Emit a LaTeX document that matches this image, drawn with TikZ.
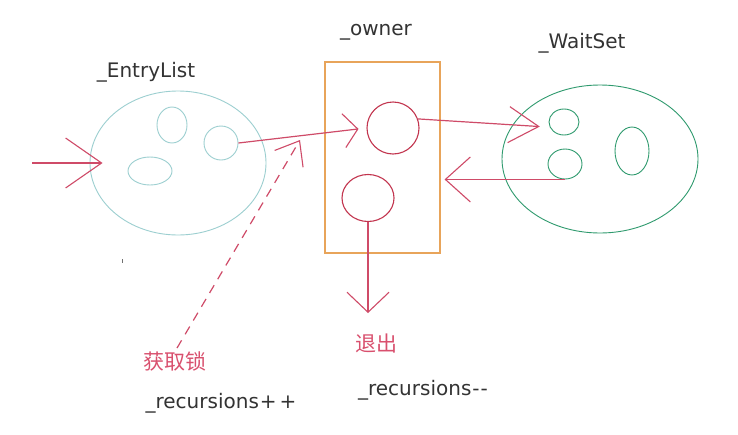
\documentclass[tikz,border=0pt]{standalone}
\usepackage{fontspec}
\setmainfont{DejaVu Sans}
\newfontfamily\cjk{Noto Sans CJK SC}
\usetikzlibrary{shapes.geometric,arrows.meta}
\definecolor{entrycol}{HTML}{9CCFD0}
\definecolor{waitcol}{HTML}{2F9A6E}
\definecolor{boxcol}{HTML}{E8A45A}
\definecolor{ringcol}{HTML}{C2344E}
\definecolor{arrowcol}{HTML}{CF4B68}
\definecolor{labelred}{HTML}{D9506E}
\definecolor{txtcol}{HTML}{333333}
\tikzset{
  blob/.style={ellipse, draw, line width=0.9pt, inner sep=0pt},
  ring/.style={ellipse, draw=ringcol, line width=1.1pt, inner sep=0pt},
  lbl/.style={font=\fontsize{20}{24}\selectfont, text=txtcol, inner sep=0pt, anchor=base},
  redlbl/.style={font=\cjk\fontsize{21}{24}\selectfont, text=labelred, inner sep=0pt},
  conn/.style={draw=arrowcol, line width=1.2pt},
  barb/.style 2 args={-{Straight Barb[length=#1pt,width=#2pt,line width=1.1pt]}},
}
\begin{document}
\begin{tikzpicture}[x=1pt,y=-1pt]
\useasboundingbox[fill=white] (0,0) rectangle (738,434);

% EntryList
\node[blob, draw=entrycol, minimum width=176pt, minimum height=144pt] (entry) at (178,163) {};
\node[blob, draw=entrycol, minimum width=30pt, minimum height=36pt] (e1) at (172,125) {};
\node[blob, draw=entrycol, minimum width=34pt, minimum height=34pt] (e2) at (221,143) {};
\node[blob, draw=entrycol, minimum width=44pt, minimum height=28pt] (e3) at (150,171) {};
\node[lbl] (entrylbl) at (146,77) {\_EntryList};

% owner
\node[draw=boxcol, line width=1.1pt, minimum width=115pt, minimum height=191pt, inner sep=0pt] (owner) at (382.5,157.5) {};
\node[lbl] (ownerlbl) at (376,35) {\_owner};
\node[ring, minimum width=52pt, minimum height=52pt] (c1) at (393,128) {};
\node[ring, minimum width=52pt, minimum height=47pt] (c2) at (368,198) {};

% WaitSet
\node[blob, draw=waitcol, minimum width=196pt, minimum height=148pt] (wait) at (600,159) {};
\node[blob, draw=waitcol, minimum width=30pt, minimum height=26pt] (w1) at (564,122) {};
\node[blob, draw=waitcol, minimum width=34pt, minimum height=30pt] (w2) at (565,164) {};
\node[blob, draw=waitcol, minimum width=34pt, minimum height=48pt] (w3) at (632,151) {};
\node[lbl] (waitlbl) at (582,48) {\_WaitSet};

% bottom labels
\node[redlbl] (lock) at (175,361) {获取锁};
\node[lbl] (recp) at (221,408) {\_recursions\kern1pt+\kern3pt+};
\node[redlbl] (quit) at (376,344) {退出};
\node[lbl] (recm) at (423,395) {\_recursions\kern1pt-\kern1pt-};

% connectors
\coordinate (in) at (32,163);
\coordinate (dashtip) at (300,140);
\coordinate (exitend) at (367,313);
\draw[conn, barb={36}{50}, shorten >=-13pt] (in) -- (entry.west);
\draw[conn, barb={14}{34}, shorten >=8pt] (e2.east) -- (c1.west);
\draw[conn, barb={21}{33}, dash pattern=on 9pt off 7pt] ([shift={(2,-3)}]lock.north) -- (dashtip);
\draw[conn, barb={30}{36}, shorten >=10pt] (c1.20) -- (w1.200);
\draw[conn, barb={25}{45}, shorten >=4pt] (w2.south) -- (w2.south -| owner.east);
\draw[conn, barb={20}{42}] (c2.south) -- (c2.south |- exitend);

% stray mark
\draw[txtcol!70, line width=1pt] (122,259) -- (122,263);
\end{tikzpicture}
\end{document}
